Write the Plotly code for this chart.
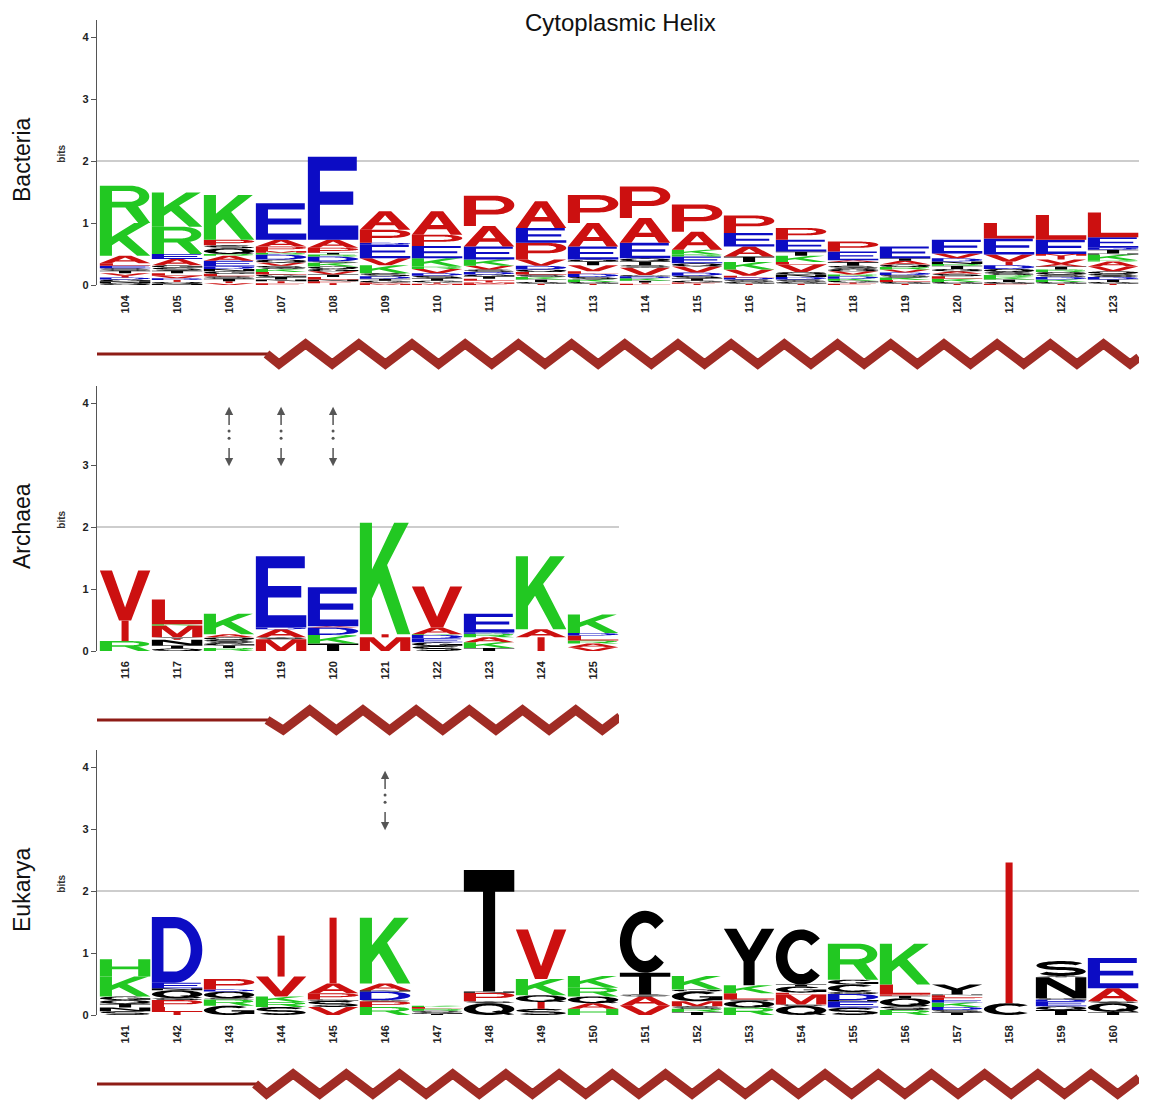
import math
import plotly.graph_objects as go

# ---------------- data ----------------
TITLE = "Cytoplasmic Helix"
PANEL_NAMES = ["Bacteria", "Archaea", "Eukarya"]
Y_TICKS = [0, 1, 2, 3, 4]

BACTERIA_POS = list(range(104, 124))
ARCHAEA_POS = list(range(116, 126))
EUKARYA_POS = list(range(141, 161))

# each column: (letter, height in bits), bottom to top
BACTERIA_STACKS = [
    [("Q", .03), ("N", .03), ("G", .03), ("D", .03), ("I", .03), ("V", .04), ("T", .04), ("S", .04), ("E", .04), ("L", .04), ("A", .12), ("K", .53), ("R", .60)],
    [("N", .02), ("Q", .03), ("I", .03), ("D", .03), ("V", .04), ("L", .04), ("T", .04), ("S", .05), ("G", .04), ("A", .10), ("E", .08), ("R", .44), ("K", .55)],
    [("V", .03), ("I", .03), ("T", .04), ("S", .04), ("L", .04), ("G", .04), ("N", .04), ("D", .04), ("E", .09), ("A", .08), ("R", .03), ("Q", .09), ("S", .05), ("P", .09), ("K", .72)],
    [("F", .03), ("I", .03), ("N", .03), ("T", .04), ("G", .04), ("L", .04), ("K", .05), ("S", .05), ("V", .05), ("Q", .05), ("D", .08), ("R", .03), ("M", .03), ("P", .07), ("A", .11), ("E", .59)],
    [("I", .03), ("F", .03), ("N", .03), ("L", .04), ("T", .04), ("V", .05), ("G", .04), ("Q", .04), ("K", .06), ("S", .02), ("D", .08), ("R", .03), ("T", .03), ("P", .08), ("A", .13), ("E", 1.34)],
    [("M", .02), ("F", .02), ("G", .03), ("T", .03), ("D", .04), ("S", .05), ("K", .13), ("V", .11), ("E", .22), ("D", .03), ("P", .21), ("A", .30)],
    [("M", .02), ("I", .02), ("G", .03), ("T", .04), ("S", .04), ("D", .04), ("V", .07), ("R", .04), ("K", .13), ("E", .20), ("P", .18), ("A", .38)],
    [("F", .02), ("M", .02), ("I", .03), ("L", .03), ("T", .04), ("G", .03), ("D", .04), ("S", .04), ("V", .06), ("K", .10), ("E", .21), ("A", .33), ("P", .49)],
    [("I", .02), ("G", .03), ("T", .04), ("K", .04), ("S", .04), ("L", .04), ("Q", .04), ("D", .06), ("V", .10), ("P", .27), ("E", .24), ("A", .43)],
    [("I", .02), ("G", .03), ("K", .04), ("S", .04), ("D", .05), ("L", .04), ("V", .10), ("T", .06), ("Q", .03), ("E", .21), ("A", .38), ("P", .45)],
    [("L", .02), ("I", .02), ("T", .03), ("K", .04), ("D", .03), ("G", .02), ("V", .12), ("S", .04), ("T", .06), ("Q", .05), ("E", .25), ("A", .40), ("P", .51)],
    [("I", .02), ("F", .02), ("G", .03), ("T", .04), ("S", .04), ("D", .05), ("V", .10), ("Q", .05), ("E", .11), ("R", .03), ("K", .08), ("A", .29), ("P", .44)],
    [("I", .02), ("G", .03), ("S", .04), ("D", .03), ("L", .03), ("V", .10), ("K", .12), ("T", .09), ("A", .16), ("E", .22), ("P", .28)],
    [("I", .02), ("G", .03), ("S", .04), ("D", .04), ("N", .04), ("Q", .04), ("V", .12), ("L", .04), ("K", .10), ("T", .07), ("E", .19), ("P", .19)],
    [("F", .02), ("I", .02), ("G", .03), ("K", .03), ("D", .04), ("R", .03), ("V", .05), ("Q", .04), ("S", .05), ("T", .06), ("A", .03), ("E", .14), ("P", .16)],
    [("I", .02), ("G", .03), ("L", .03), ("K", .04), ("S", .04), ("D", .04), ("V", .05), ("R", .04), ("Q", .04), ("A", .06), ("T", .04), ("E", .19)],
    [("I", .02), ("G", .03), ("K", .05), ("L", .04), ("S", .04), ("A", .04), ("Q", .04), ("T", .05), ("R", .03), ("N", .04), ("D", .05), ("V", .08), ("E", .22)],
    [("F", .02), ("G", .03), ("T", .04), ("K", .04), ("R", .03), ("S", .05), ("Q", .05), ("D", .06), ("I", .06), ("V", .11), ("E", .26), ("L", .25)],
    [("I", .02), ("G", .03), ("K", .04), ("D", .04), ("S", .04), ("Q", .04), ("R", .04), ("T", .05), ("A", .04), ("V", .07), ("I", .06), ("M", .03), ("E", .23), ("L", .40)],
    [("I", .02), ("G", .03), ("T", .04), ("D", .04), ("S", .05), ("Q", .04), ("V", .08), ("A", .08), ("R", .02), ("K", .09), ("N", .02), ("T", .06), ("D", .03), ("E", .17), ("L", .40)],
]

ARCHAEA_STACKS = [
    [("R", .16), ("I", .33), ("V", .81)],
    [("Q", .04), ("T", .05), ("N", .09), ("I", .02), ("Y", .02), ("M", .19), ("K", .02), ("L", .40)],
    [("R", .05), ("T", .04), ("G", .04), ("S", .05), ("Q", .04), ("A", .05), ("K", .33)],
    [("M", .19), ("S", .03), ("A", .13), ("D", .03), ("E", 1.15)],
    [("T", .12), ("K", .12), ("R", .02), ("D", .12), ("A", .02), ("E", .63)],
    [("M", .22), ("I", .05), ("K", 1.80)],
    [("S", .08), ("G", .06), ("E", .06), ("D", .06), ("K", .01), ("A", .11), ("V", .66)],
    [("T", .05), ("K", .09), ("A", .08), ("R", .06), ("D", .02), ("E", .30)],
    [("I", .22), ("A", .13), ("K", 1.18)],
    [("V", .06), ("A", .06), ("R", .05), ("L", .08), ("D", .04), ("K", .30)],
]

EUKARYA_STACKS = [
    [("S", .06), ("N", .06), ("T", .06), ("Q", .06), ("G", .06), ("K", .32), ("H", .28)],
    [("I", .05), ("L", .08), ("P", .11), ("S", .03), ("Q", .13), ("N", .03), ("E", .09), ("D", 1.06)],
    [("G", .15), ("R", .10), ("S", .02), ("Q", .11), ("D", .03), ("P", .17)],
    [("S", .13), ("R", .08), ("K", .09), ("V", .32), ("I", .66)],
    [("V", .13), ("S", .10), ("G", .02), ("P", .10), ("A", .16), ("I", 1.06)],
    [("R", .13), ("P", .09), ("S", .02), ("D", .14), ("N", .02), ("A", .11), ("K", 1.06)],
    [("T", .02), ("G", .02), ("S", .03), ("R", .03), ("L", .03), ("K", .02)],
    [("Q", .19), ("S", .03), ("P", .14), ("N", .02), ("T", 1.96)],
    [("S", .10), ("I", .11), ("Q", .11), ("K", .26), ("V", .80)],
    [("H", .10), ("A", .09), ("Q", .11), ("R", .14), ("K", .19)],
    [("V", .15), ("A", .15), ("S", .03), ("T", .35), ("C", 1.00)],
    [("T", .05), ("R", .05), ("S", .04), ("M", .08), ("G", .16), ("Q", .03), ("K", .22)],
    [("R", .12), ("Q", .11), ("S", .02), ("L", .10), ("K", .13), ("Y", .91)],
    [("Q", .15), ("S", .02), ("M", .16), ("L", .03), ("G", .10), ("T", .03), ("C", .89)],
    [("S", .12), ("E", .10), ("N", .02), ("D", .10), ("Q", .03), ("C", .12), ("G", .08), ("R", .58)],
    [("R", .08), ("S", .06), ("Q", .13), ("T", .04), ("P", .02), ("L", .16), ("K", .66)],
    [("T", .04), ("S", .04), ("D", .05), ("K", .07), ("E", .04), ("F", .04), ("L", .04), ("N", .01), ("Y", .16)],
    [("C", .19), ("I", 2.27)],
    [("T", .08), ("Q", .06), ("E", .08), ("D", .03), ("G", .02), ("N", .34), ("Y", .02), ("S", .24)],
    [("T", .05), ("Q", .14), ("S", .03), ("A", .21), ("E", .49)],
]

# dotted double arrows: column index per panel (bits from 3 to 3.9)
ARCHAEA_ARROW_COLS = [2, 3, 4]
EUKARYA_ARROW_COLS = [5]

# ---------------- letter colours ----------------
COLORS = {}
for c in "KRH":
    COLORS[c] = "#22c822"
for c in "DE":
    COLORS[c] = "#0c0cc4"
for c in "AVLIMFWP":
    COLORS[c] = "#cc1010"
for c in "STYCNQG":
    COLORS[c] = "#000000"

# ---------------- glyph outlines (unit box) ----------------
def ell(cx, cy, rx, ry, a0, a1, n=28):
    out = []
    for i in range(n + 1):
        t = math.radians(a0 + (a1 - a0) * i / n)
        out.append((cx + rx * math.cos(t), cy + ry * math.sin(t)))
    return out


def sarea(p):
    n = len(p)
    return 0.5 * sum(p[i][0] * p[(i + 1) % n][1] - p[(i + 1) % n][0] * p[i][1] for i in range(n))


def solid(p):
    return p if sarea(p) > 0 else p[::-1]


def hole(p):
    return p if sarea(p) < 0 else p[::-1]


def stroke(pts, hw):
    left, right = [], []
    n = len(pts)
    for i, (x, y) in enumerate(pts):
        if i == 0:
            dx, dy = pts[1][0] - x, pts[1][1] - y
        elif i == n - 1:
            dx, dy = x - pts[i - 1][0], y - pts[i - 1][1]
        else:
            dx, dy = pts[i + 1][0] - pts[i - 1][0], pts[i + 1][1] - pts[i - 1][1]
        L = math.hypot(dx, dy) or 1
        nx, ny = -dy / L, dx / L
        left.append((x + nx * hw, y + ny * hw))
        right.append((x - nx * hw, y - ny * hw))
    return left + right[::-1]


def ring():
    return [solid(ell(.5, .5, .5, .5, 0, 360, 48)[:-1]), hole(ell(.5, .5, .27, .31, 0, 360, 40)[:-1])]


def c_shape(a0=42, a1=318):
    return solid(ell(.5, .5, .5, .5, a0, a1, 40) + ell(.5, .5, .27, .31, a1, a0, 36))


s_center = ell(.5, .7, .39, .2, 25, 270, 30) + ell(.5, .3, .39, .2, 90, -155, 30)[1:]

GLYPHS = {
    "A": [solid([(0, 0), (.23, 0), (.31, .24), (.69, .24), (.77, 0), (1, 0), (.62, 1), (.38, 1)]),
          hole([(.37, .41), (.63, .41), (.5, .78)])],
    "C": [c_shape()],
    "D": [solid([(0, 0), (.45, 0)] + ell(.45, .5, .55, .5, -90, 90) + [(.45, 1), (0, 1)]),
          hole([(.23, .17), (.45, .17)] + ell(.45, .5, .32, .33, -90, 90) + [(.45, .83), (.23, .83)])],
    "E": [solid([(0, 0), (1, 0), (1, .17), (.24, .17), (.24, .42), (.9, .42), (.9, .58), (.24, .58),
                 (.24, .83), (.97, .83), (.97, 1), (0, 1)])],
    "F": [solid([(0, 0), (.24, 0), (.24, .42), (.85, .42), (.85, .58), (.24, .58), (.24, .83), (.95, .83),
                 (.95, 1), (0, 1)])],
    "G": [c_shape(45, 340), solid([(.55, .38), (1, .38), (1, .52), (.55, .52)]),
          solid([(.8, .1), (1, .1), (1, .5), (.8, .5)])],
    "H": [solid([(0, 0), (.24, 0), (.24, .42), (.76, .42), (.76, 0), (1, 0), (1, 1), (.76, 1), (.76, .58),
                 (.24, .58), (.24, 1), (0, 1)])],
    "I": [solid([(.43, 0), (.57, 0), (.57, 1), (.43, 1)])],
    "K": [solid([(0, 0), (.24, 0), (.24, .32), (.38, .46), (.74, 0), (1, 0), (.54, .62), (.97, 1), (.68, 1),
                 (.24, .58), (.24, 1), (0, 1)])],
    "L": [solid([(0, 0), (1, 0), (1, .18), (.26, .18), (.26, 1), (0, 1)])],
    "M": [solid([(0, 0), (.2, 0), (.2, .72), (.42, 0), (.58, 0), (.8, .72), (.8, 0), (1, 0), (1, 1), (.72, 1),
                 (.5, .3), (.28, 1), (0, 1)])],
    "N": [solid([(0, 0), (.22, 0), (.22, .66), (.74, 0), (1, 0), (1, 1), (.78, 1), (.78, .34), (.26, 1), (0, 1)])],
    "O": ring(),
    "P": [solid([(0, 0), (.24, 0), (.24, .38), (.62, .38)] + ell(.62, .69, .38, .31, -90, 90) + [(.62, 1), (0, 1)]),
          hole([(.24, .54), (.6, .54)] + ell(.6, .69, .2, .15, -90, 90) + [(.6, .84), (.24, .84)])],
    "Q": ring() + [solid([(.55, .3), (.7, .38), (1, .06), (.88, 0)])],
    "R": [solid([(0, 0), (.24, 0), (.24, .42), (.6, .42)] + ell(.6, .71, .38, .29, -90, 90) + [(.6, 1), (0, 1)]),
          hole([(.24, .57), (.58, .57)] + ell(.58, .715, .2, .145, -90, 90) + [(.58, .86), (.24, .86)]),
          solid([(.48, .46), (.76, 0), (1, 0), (.74, .48)])],
    "S": [solid(stroke(s_center, .1))],
    "T": [solid([(.38, 0), (.62, 0), (.62, .82), (1, .82), (1, 1), (0, 1), (0, .82), (.38, .82)])],
    "V": [solid([(0, 1), (.38, 0), (.62, 0), (1, 1), (.76, 1), (.5, .26), (.24, 1)])],
    "W": [solid([(0, 1), (.18, 0), (.36, 0), (.5, .6), (.64, 0), (.82, 0), (1, 1), (.82, 1), (.72, .35),
                 (.58, 1), (.42, 1), (.28, .35), (.18, 1)])],
    "Y": [solid([(.39, 0), (.61, 0), (.61, .42), (1, 1), (.75, 1), (.5, .62), (.25, 1), (0, 1), (.39, .42)])],
}


def glyph_path(letter, xc, y0, h, w):
    parts = []
    for poly in GLYPHS[letter]:
        pts = [(xc - w / 2 + u * w, y0 + v * h) for u, v in poly]
        parts.append("M" + "L".join(f"{x:.4f},{y:.4f}" for x, y in pts) + "Z")
    return "".join(parts)


# ---------------- layout geometry (window pixels) ----------------
WIN_W, WIN_H = 1150, 1102
OFF = 8                      # default page body margin
W, H = WIN_W - OFF, WIN_H - OFF
COL_PX = 52.0
AX_X = 97
PANELS = [
    dict(pos=BACTERIA_POS, stacks=BACTERIA_STACKS, y0=285, arrows=[],
         helix=dict(line_end=2.72, trough=2.96, end=19.5)),
    dict(pos=ARCHAEA_POS, stacks=ARCHAEA_STACKS, y0=651, arrows=ARCHAEA_ARROW_COLS,
         helix=dict(line_end=2.73, trough=3.04, end=9.52)),
    dict(pos=EUKARYA_POS, stacks=EUKARYA_STACKS, y0=1015, arrows=EUKARYA_ARROW_COLS,
         helix=dict(line_end=2.5, trough=2.72, end=19.5)),
]
YMAX = 4.27
BIT_PX = 62.0
LETTER_W = 0.97
HELIX_PERIOD = 1.023
FONT = "Liberation Sans, Arial, Helvetica, sans-serif"


def px(x):
    return (x - OFF) / W


def py(y):
    return 1 - (y - OFF) / H


fig = go.Figure()
shapes = []
annotations = []
layout = {}

annotations.append(dict(text=TITLE, x=px(620), y=py(22), xref="paper", yref="paper", showarrow=False,
                        font=dict(family=FONT, size=24, color="#111"), xanchor="center", yanchor="middle"))

for i, p in enumerate(PANELS):
    sfx = "" if i == 0 else str(i + 1)
    xr, yr = "x" + sfx, "y" + sfx
    n = len(p["pos"])
    y0 = p["y0"]
    ytop = y0 - YMAX * BIT_PX
    x_right = AX_X + COL_PX * (n + 0.04)
    layout["xaxis" + sfx] = dict(
        domain=[px(AX_X), px(x_right)], range=[-0.54, n - 0.5], anchor=yr, automargin=False,
        showgrid=False, zeroline=False, showline=False, ticks="",
        tickmode="array", tickvals=list(range(n)), ticktext=[str(v) for v in p["pos"]],
        tickangle=-90, ticklabelstandoff=7,
        tickfont=dict(family=FONT, size=11, color="#222", weight="bold"), fixedrange=True)
    layout["yaxis" + sfx] = dict(
        domain=[py(y0), py(ytop)], range=[0, YMAX], anchor=xr, automargin=False,
        showgrid=False, zeroline=False, showline=True, linecolor="#555", linewidth=1.3,
        ticks="outside", ticklen=5, tickcolor="#555", tickwidth=1.3,
        tickmode="array", tickvals=Y_TICKS,
        tickfont=dict(family=FONT, size=11, color="#222", weight="bold"), fixedrange=True)

    # invisible trace to create the subplot
    fig.add_trace(go.Scatter(x=[0], y=[0], xaxis=xr, yaxis=yr, mode="markers",
                             marker=dict(opacity=0), showlegend=False, hoverinfo="skip"))

    # gridline at 2 bits
    shapes.append(dict(type="line", xref=xr, yref=yr, x0=-0.54, x1=n - 0.5, y0=2, y1=2,
                       line=dict(color="#bdbdbd", width=1.3), layer="below"))

    # letters
    for ci, stack in enumerate(p["stacks"]):
        base = 0.0
        for letter, h in stack:
            if h > 0.004:
                shapes.append(dict(type="path", xref=xr, yref=yr,
                                   path=glyph_path(letter, ci, base, h, LETTER_W),
                                   fillcolor=COLORS[letter], line=dict(width=0),
                                   fillrule="nonzero", layer="above"))
            base += h

    # labels
    annotations.append(dict(text=PANEL_NAMES[i], x=px(22), y=py(y0 - 125), xref="paper", yref="paper",
                            textangle=-90, showarrow=False, xanchor="center", yanchor="middle",
                            font=dict(family=FONT, size=23, color="#111")))
    annotations.append(dict(text="bits", x=px(62), y=py((y0 + ytop) / 2 + 1), xref="paper", yref="paper",
                            textangle=-90, showarrow=False, xanchor="center", yanchor="middle",
                            font=dict(family=FONT, size=10, color="#333", weight="bold")))
    annotations.append(dict(text="N", x=-0.69, y=py(y0 + 23), xref=xr, yref="paper", showarrow=False,
                            xanchor="center", yanchor="middle",
                            font=dict(family=FONT, size=11, color="#222", weight="bold")))
    annotations.append(dict(text="C", x=n - 0.5 + 0.13, y=py(y0 + 23), xref=xr, yref="paper", showarrow=False,
                            xanchor="center", yanchor="middle",
                            font=dict(family=FONT, size=11, color="#222", weight="bold")))

    # helix
    hy = y0 + 69
    hx = p["helix"]
    shapes.append(dict(type="line", xref=xr, yref="paper", x0=-0.58, x1=hx["line_end"] + 0.05,
                       y0=py(hy), y1=py(hy), line=dict(color="#8e1c16", width=3)))
    amp = 10
    pts = [(hx["line_end"], py(hy))]
    k = 0
    while True:
        xv = hx["trough"] + k * HELIX_PERIOD / 2
        if xv > hx["end"]:
            break
        pts.append((xv, py(hy + amp) if k % 2 == 0 else py(hy - amp)))
        k += 1
    lastx, lasty = pts[-1]
    if hx["end"] - lastx > 0.05:
        frac = (hx["end"] - lastx) / (HELIX_PERIOD / 2)
        target = py(hy - amp) if (k % 2 == 1) else py(hy + amp)
        pts.append((hx["end"], lasty + (target - lasty) * frac))
    path = "M" + "L".join(f"{a:.4f},{b:.5f}" for a, b in pts)
    shapes.append(dict(type="path", xref=xr, yref="paper", path=path,
                       line=dict(color="#a02c25", width=9)))

    # dotted double arrows
    dot_x, dot_y = [], []
    for c in p["arrows"]:
        annotations.append(dict(x=c, y=3.94, ax=c, ay=3.62, xref=xr, yref=yr, axref=xr, ayref=yr,
                                text="", showarrow=True, arrowhead=2, arrowsize=1.1, arrowwidth=1.5,
                                arrowcolor="#555"))
        annotations.append(dict(x=c, y=2.98, ax=c, ay=3.30, xref=xr, yref=yr, axref=xr, ayref=yr,
                                text="", showarrow=True, arrowhead=2, arrowsize=1.1, arrowwidth=1.5,
                                arrowcolor="#555"))
        dot_x += [c, c]
        dot_y += [3.55, 3.43]
    if dot_x:
        fig.add_trace(go.Scatter(x=dot_x, y=dot_y, xaxis=xr, yaxis=yr, mode="markers",
                                 marker=dict(size=3, color="#555"), showlegend=False, hoverinfo="skip"))

fig.update_layout(width=W, height=H, margin=dict(l=0, r=0, t=0, b=0, autoexpand=False),
                  paper_bgcolor="white", plot_bgcolor="white", showlegend=False,
                  shapes=shapes, annotations=annotations, **layout)

fig.write_html("out.html")
